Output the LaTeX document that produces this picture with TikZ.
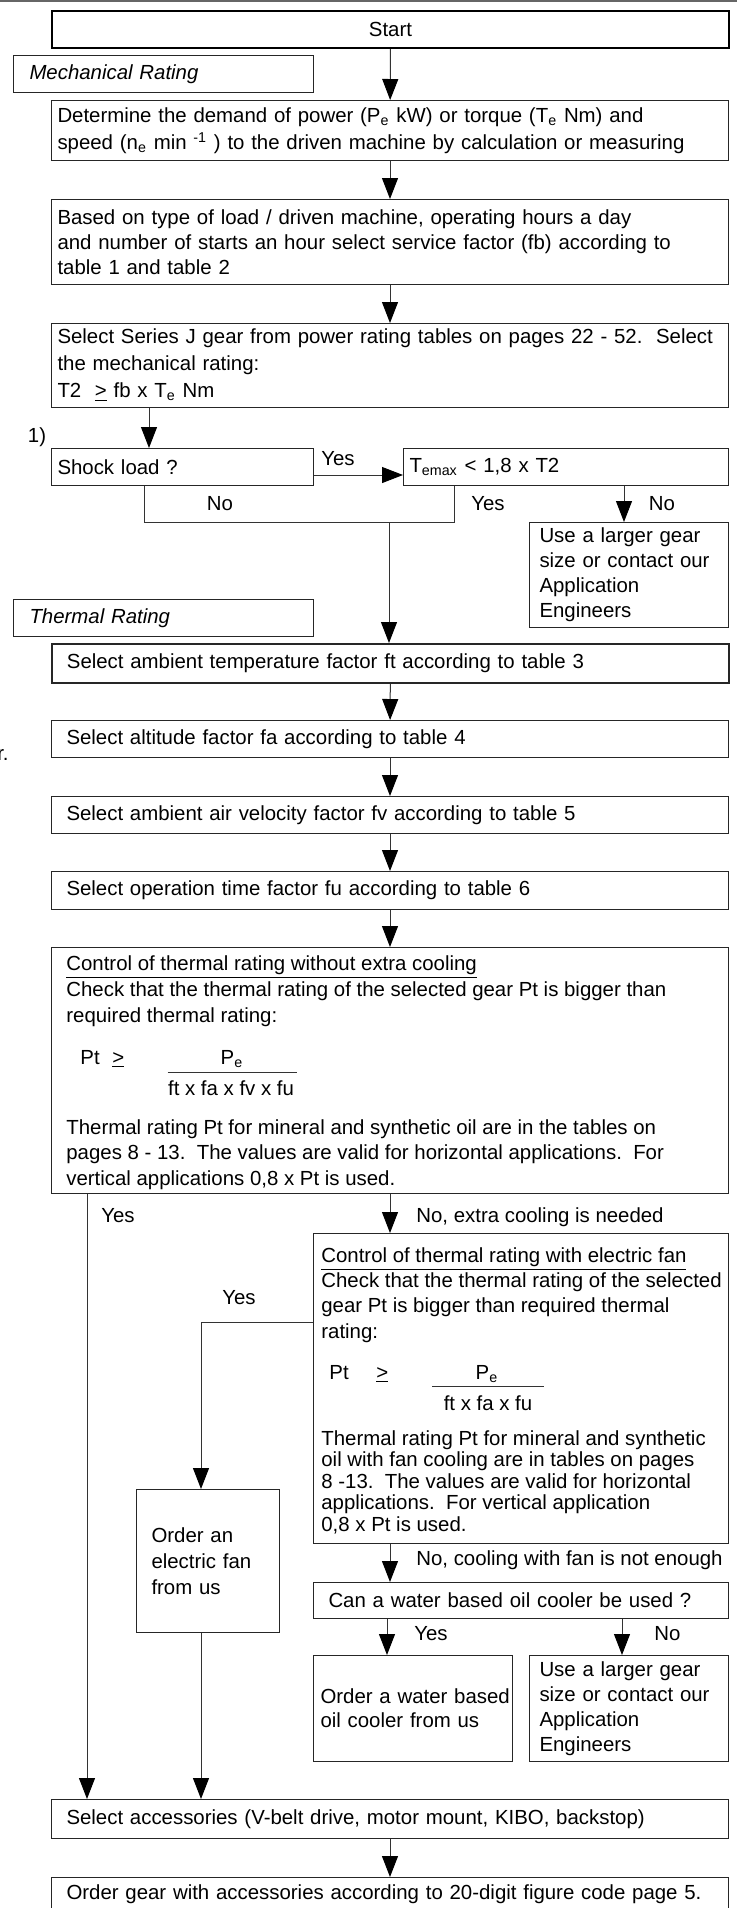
\documentclass[tikz,border=0pt]{standalone}
\usepackage{fontspec}
\setmainfont{Liberation Sans}
\usetikzlibrary{%
   arrows.meta,%
   calc,%
   positioning}
\newcommand{\flowfont}{\fontsize{10.2}{12.5}\selectfont}

\begin{document}
\begin{tikzpicture}
[x=0.5pt, y=-0.5pt,
 every node/.style={font=\flowfont},
 box/.style={rectangle,draw=black!85,line width=0.5pt,anchor=north west,align=left,inner ysep=0pt},
 boxS/.style={box,draw=black,line width=1pt,align=center},
 wide/.style={box,minimum width=338.5pt,inner xsep=3pt,text width=332.5pt},
 wideT/.style={box,minimum width=338.5pt,inner xsep=7.5pt,text width=323.5pt},
 head/.style={box,minimum width=150pt,minimum height=18.5pt,inner xsep=8pt,text width=134pt,font=\flowfont\itshape},
 narrow/.style={box,minimum width=99.5pt,inner xsep=5pt,text width=89.5pt},
 ptext/.style={inner sep=0pt,anchor=north west,align=left},
 tag/.style={inner sep=0pt,anchor=base},
 conn/.style={draw=black!80,line width=0.5pt},
 conA/.style={conn,-{Triangle[length=10.5pt,width=8pt,color=black]}}]
\useasboundingbox (0,0) rectangle (737,1908);
\draw[black!60,line width=1pt] (0,1) -- (737,1);
% mechanical rating
\node[boxS,minimum width=338.5pt,minimum height=18.5pt] (start) at (51,10) {Start};
\node[head] (mech) at (13,55) {Mechanical Rating};
\node[wide,minimum height=30pt,font=\fontsize{10.2}{13.5}\selectfont] (demand) at (51,100)
   {Determine the demand of power (P\textsubscript{e} kW) or torque (T\textsubscript{e} Nm) and\\
    speed (n\textsubscript{e} min \textsuperscript{-1} ) to the driven machine by calculation or measuring};
\node[wide,minimum height=42.5pt] (service) at (51,199)
   {Based on type of load / driven machine, operating hours a day\\
    and number of starts an hour select service factor (fb) according to\\
    table 1 and table 2};
\node[wide,minimum height=42pt,font=\fontsize{10.2}{13.5}\selectfont] (series) at (51,323)
   {Select Series J gear from power rating tables on pages 22 - 52.\ \ Select\\
    the mechanical rating:\\
    T2\ \ \underline{>} fb x T\textsubscript{e} Nm};
\node[box,minimum width=131pt,minimum height=18.5pt,inner xsep=3pt,text width=125pt] (shock) at (51,448) {Shock load ?};
\node[box,minimum width=162.5pt,minimum height=18.5pt,inner xsep=3pt,text width=156.5pt] (temax) at (403,448) {T\textsubscript{emax} < 1,8 x T2};
\node[narrow,minimum height=52.5pt] (larger1) at (529,522) {Use a larger gear\\size or contact our\\Application\\Engineers};
% thermal rating
\node[head] (thermal) at (13,599) {Thermal Rating};
\node[wideT,line width=0.9pt,minimum height=19.5pt] (ambient) at (51,643) {Select ambient temperature factor ft according to table 3};
\node[wideT,minimum height=18.5pt] (altitude) at (51,720) {Select altitude factor fa according to table 4};
\node[wideT,minimum height=18.5pt] (velocity) at (51,796) {Select ambient air velocity factor fv according to table 5};
\node[wideT,minimum height=19pt] (optime) at (51,871) {Select operation time factor fu according to table 6};
\node[box,minimum width=338.5pt,minimum height=123pt] (control) at (51,947) {};
\node[ptext,font=\fontsize{10.2}{13}\selectfont] (ctrlhead) at (66,955)
   {\underline{Control of thermal rating without extra cooling}\\
    Check that the thermal rating of the selected gear Pt is bigger than\\
    required thermal rating:};
\node[tag,anchor=base west] (ctrlpt) at (80,1064) {Pt};
\node[tag,anchor=base west] (ctrlge) at (112,1064) {\underline{>}};
\node[tag] (ctrlnum) at (232,1064) {P\textsubscript{e}};
\node[tag] (ctrlden) at (231,1095) {ft x fa x fv x fu};
\draw[conn] ([yshift=3.5pt]ctrlden.north west) -- ([xshift=1.5pt,yshift=3.5pt]ctrlden.north east);
\node[ptext,font=\fontsize{10.2}{12.75}\selectfont] (ctrlnote) at (66,1119)
   {Thermal rating Pt for mineral and synthetic oil are in the tables on\\
    pages 8 - 13.\ \ The values are valid for horizontal applications.\ \ For\\
    vertical applications 0,8 x Pt is used.};
% extra cooling
\node[box,minimum width=207.5pt,minimum height=155pt] (fan) at (313,1233) {};
\node[ptext,font=\fontsize{10.2}{12.65}\selectfont] (fanhead) at (321,1247)
   {\underline{Control of thermal rating with electric fan}\\
    Check that the thermal rating of the selected\\
    gear Pt is bigger than required thermal\\
    rating:};
\node[tag,anchor=base west] (fanpt) at (329,1379) {Pt};
\node[tag,anchor=base west] (fange) at (376,1379) {\underline{>}};
\node[tag] (fannum) at (487,1379) {P\textsubscript{e}};
\node[tag] (fanden) at (488,1410) {ft x fa x fu};
\draw[conn] ([xshift=-5.5pt,yshift=4pt]fanden.north west) -- ([xshift=5.5pt,yshift=4pt]fanden.north east);
\node[ptext,font=\fontsize{10.2}{10.75}\selectfont] (fannote) at (321,1430)
   {Thermal rating Pt for mineral and synthetic\\
    oil with fan cooling are in tables on pages\\
    8 -13.\ \ The values are valid for horizontal\\
    applications.\ \ For vertical application\\
    0,8 x Pt is used.};
\node[box,minimum width=71.5pt,minimum height=71.5pt,inner xsep=7.5pt,text width=56.5pt,font=\fontsize{10.2}{13}\selectfont] (orderfan) at (136,1489) {Order an\\electric fan\\from us};
\node[box,minimum width=207.5pt,minimum height=18pt,inner xsep=7.5pt,text width=192.5pt] (water) at (313,1582) {Can a water based oil cooler be used ?};
\node[box,minimum width=99.5pt,minimum height=53pt,inner xsep=3.5pt,text width=92.5pt,font=\fontsize{10.2}{12}\selectfont] (orderwater) at (313,1655) {\mbox{Order a water based}\\oil cooler from us};
\node[narrow,minimum height=53pt] (larger2) at (529,1655) {Use a larger gear\\size or contact our\\Application\\Engineers};
\node[wideT,minimum height=19.5pt] (accessories) at (51,1799) {Select accessories (V-belt drive, motor mount, KIBO, backstop)};
\node[wideT,minimum height=17pt] (ordergear) at (51,1877) {Order gear with accessories according to 20-digit figure code page 5.};
% labels
\node[tag] (note1) at (37,442) {1)};
\node[tag,anchor=base east] (cut) at (9,760) {r.};
\node[tag] (yesA) at (338,465) {Yes};
\node[tag] (noA) at (220,510) {No};
\node[tag] (yesB) at (488,510) {Yes};
\node[tag] (noB) at (662,510) {No};
\node[tag] (yesC) at (118,1222) {Yes};
\node[tag,anchor=base west] (noC) at (416,1222) {No, extra cooling is needed};
\node[tag] (yesD) at (239,1304) {Yes};
\node[tag,anchor=base west] (noD) at (416,1565) {No, cooling with fan is not enough};
\node[tag,anchor=base west] (yesE) at (414,1640) {Yes};
\node[tag,anchor=base west] (noE) at (654,1640) {No};
% connectors
\coordinate (join)   at (389,522);
\coordinate (sj)     at ([xshift=49pt]series.south west);
\coordinate (nodown) at ([xshift=46.5pt]shock.south west);
\coordinate (yesup)  at ([xshift=25.5pt]temax.south west);
\coordinate (tno)    at ([xshift=110.5pt]temax.south west);
\coordinate (cyes)   at ([xshift=18pt]control.south west);
\coordinate (fyes)   at ([yshift=-44.5pt]fan.north west);
\coordinate (ofx)    at ([xshift=32.5pt]orderfan.north west);
\coordinate (ofb)    at ([xshift=32.5pt]orderfan.south west);
\coordinate (wyes)   at ([xshift=37pt]water.south west);
\coordinate (wno)    at ([xshift=154.5pt]water.south west);
\draw[conA] (start) -- (demand);
\draw[conA] (demand) -- (service);
\draw[conA] (service) -- (series);
\draw[conA] (sj) -- (sj |- shock.north);
\draw[conA] ([yshift=-4pt]shock.east) -- ([yshift=-4pt]temax.west);
\draw[conn] (nodown) |- (join) -| (yesup);
\draw[conA] (tno) -- (tno |- larger1.north);
\draw[conA] (join) -- (join |- ambient.north);
\draw[conA] (ambient) -- (altitude);
\draw[conA] (altitude) -- (velocity);
\draw[conA] (velocity) -- (optime);
\draw[conA] (optime) -- (control);
\draw[conA] (control.south) -- (control.south |- fan.north);
\draw[conA] (cyes) -- (cyes |- accessories.north);
\draw[conA] (fyes) -| (ofx);
\draw[conA] (ofb) -- (ofb |- accessories.north);
\draw[conA] (control.south |- fan.south) -- (control.south |- water.north);
\draw[conA] (wyes) -- (wyes |- orderwater.north);
\draw[conA] (wno) -- (wno |- larger2.north);
\draw[conA] (accessories) -- (ordergear);
\end{tikzpicture}
\end{document}
